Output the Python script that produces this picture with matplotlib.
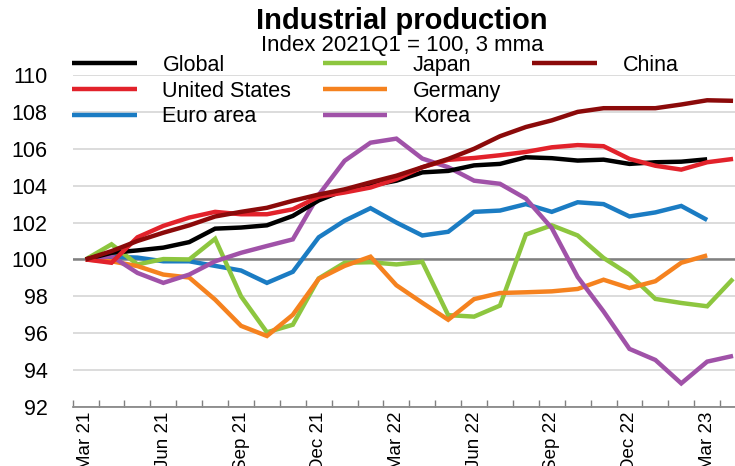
import numpy as np
import matplotlib
matplotlib.use('Agg')
import matplotlib.pyplot as plt
from matplotlib.lines import Line2D

nan = np.nan

months = ['Mar 21', 'Apr 21', 'May 21', 'Jun 21', 'Jul 21', 'Aug 21', 'Sep 21', 'Oct 21',
          'Nov 21', 'Dec 21', 'Jan 22', 'Feb 22', 'Mar 22', 'Apr 22', 'May 22', 'Jun 22',
          'Jul 22', 'Aug 22', 'Sep 22', 'Oct 22', 'Nov 22', 'Dec 22', 'Jan 23', 'Feb 23',
          'Mar 23', 'Apr 23']

global_ip = [100.0, 100.36, 100.49, 100.64, 100.94, 101.67, 101.73, 101.85, 102.36, 103.2,
             103.76, 104.0, 104.27, 104.72, 104.8, 105.1, 105.18, 105.54, 105.49, 105.36,
             105.41, 105.18, 105.27, 105.3, 105.43, nan]
united_states = [100.0, 99.82, 101.2, 101.82, 102.27, 102.58, 102.45, 102.45, 102.72, 103.4,
                 103.63, 103.9, 104.36, 105.0, 105.4, 105.5, 105.65, 105.83, 106.08, 106.2,
                 106.14, 105.45, 105.08, 104.87, 105.27, 105.45]
euro_area = [100.0, 100.15, 100.1, 99.9, 99.9, 99.65, 99.4, 98.73, 99.33, 101.2,
             102.1, 102.78, 102.0, 101.3, 101.5, 102.58, 102.65, 103.0, 102.58, 103.1,
             103.0, 102.33, 102.55, 102.9, 102.14, nan]
japan = [100.0, 100.82, 99.73, 100.02, 100.0, 101.12, 98.0, 96.05, 96.46, 98.97,
         99.82, 99.85, 99.73, 99.87, 96.98, 96.9, 97.5, 101.35, 101.85, 101.3,
         100.08, 99.18, 97.86, 97.64, 97.46, 98.95]
germany = [100.0, 99.9, 99.64, 99.18, 99.02, 97.82, 96.4, 95.85, 97.0, 98.95,
           99.65, 100.15, 98.6, 97.65, 96.73, 97.85, 98.18, 98.22, 98.27, 98.4,
           98.9, 98.45, 98.82, 99.82, 100.22, nan]
korea = [100.0, 100.18, 99.27, 98.73, 99.18, 99.9, 100.36, 100.73, 101.09, 103.5,
         105.35, 106.33, 106.55, 105.47, 105.0, 104.27, 104.1, 103.3, 101.7, 99.05,
         97.18, 95.15, 94.55, 93.28, 94.46, 94.77]
china = [100.0, 100.45, 101.0, 101.45, 101.85, 102.33, 102.58, 102.8, 103.18, 103.52,
         103.8, 104.18, 104.54, 105.0, 105.45, 106.0, 106.68, 107.18, 107.54, 108.0,
         108.2, 108.2, 108.2, 108.4, 108.63, 108.6]

series = [
    ('Global', global_ip, '#000000', 6),
    ('United States', united_states, '#E2222B', 7),
    ('Euro area', euro_area, '#1B7CC3', 3),
    ('Japan', japan, '#8DC63F', 4),
    ('Germany', germany, '#F5821F', 4.5),
    ('Korea', korea, '#A052A8', 5),
    ('China', china, '#8B0A0A', 8),
]

plt.rcParams['font.family'] = ['Liberation Sans', 'DejaVu Sans']

W, H = 735, 466
fig = plt.figure(figsize=(W / 100, H / 100), dpi=100)
left_px, right_px, top_px, bottom_px = 72.7, 746.0, 75.0, 407.0
ax = fig.add_axes([left_px / W, (H - bottom_px) / H, (right_px - left_px) / W,
                   (bottom_px - top_px) / H])

x = np.arange(len(months))
handles = []
for name, vals, col, z in series:
    ln, = ax.plot(x, vals, color=col, lw=3.2, label=name, zorder=z,
                  solid_joinstyle='miter', solid_capstyle='butt')
    handles.append(ln)

ax.set_xlim(-0.5, len(months) - 0.5)
ax.set_ylim(92, 110)
ax.set_yticks(np.arange(92, 111, 2))
ax.yaxis.grid(True, color='#d9d9d9', lw=1.3)
ax.set_axisbelow(True)
ax.axhline(100, color='#808080', lw=1.8, zorder=2)

for s in ['left', 'right', 'top']:
    ax.spines[s].set_visible(False)
ax.spines['bottom'].set_color('#808080')
ax.spines['bottom'].set_linewidth(1.2)

ax.tick_params(axis='y', length=0, pad=18, labelsize=15.5, labelcolor='#000000')
ax.set_xticks(x[::3])
ax.set_xticklabels(months[::3], rotation=90)
ax.set_xticks(np.arange(-0.5, len(months)), minor=True)
ax.tick_params(axis='x', which='major', length=0, pad=3, labelsize=13.5)
ax.tick_params(axis='x', which='minor', direction='in', length=5, color='#808080', width=1)

fig.text(402 / W, 1 - 21 / H, 'Industrial production', ha='center', va='center',
         fontsize=21, fontweight='bold')
fig.text(402 / W, 1 - 45 / H, 'Index 2021Q1 = 100, 3 mma', ha='center', va='center',
         fontsize=16)

# order: col1 Global/US/Euro, col2 Japan/Germany/Korea, col3 China + two blanks
blank = Line2D([], [], color='none')
leg_handles = handles + [blank, blank]
leg_labels = [h.get_label() for h in handles] + ['', '']
fig.legend(leg_handles, leg_labels, loc='upper left', bbox_to_anchor=(72 / W, 1 - 55 / H),
           ncol=3, frameon=False, fontsize=15.5, handlelength=3.0, handletextpad=1.2,
           columnspacing=1.45, labelspacing=0.22, borderpad=0, borderaxespad=0)

fig.savefig('out.png', dpi=100)
